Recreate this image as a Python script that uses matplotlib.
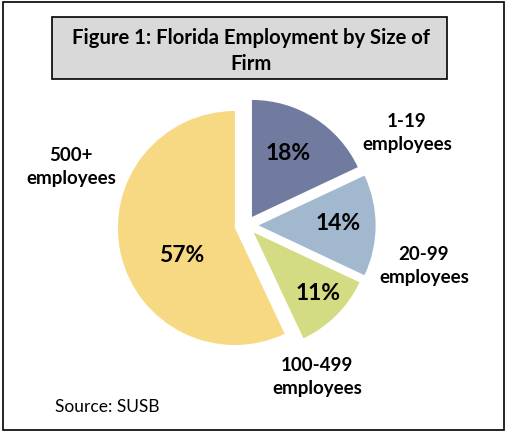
import matplotlib
matplotlib.use("Agg")
import matplotlib.pyplot as plt
from matplotlib.patches import Rectangle

# data
categories = ["1-19\nemployees", "20-99\nemployees", "100-499\nemployees", "500+\nemployees"]
shares = [18, 14, 11, 57]
colors = ["#717a9f", "#a2b8cf", "#d3dc82", "#f6d982"]
explode_px = [10, 12, 10, 12]

W, H = 508, 433
R = 117.0          # pie radius in pixels
CX, CY = 246.6, 225.4   # pie centre in pixels (from top-left)

def pos(px, py):
  # pixel (from top-left) -> data units of the pie axes
  return (px - CX) / R, (CY - py) / R

plt.rcParams['font.family'] = ['Lato', 'DejaVu Sans']

fig = plt.figure(figsize=(W / 100, H / 100), dpi=100)
ax = fig.add_axes([0, 0, 1, 1])

ax.pie(shares, colors=colors, startangle=90, counterclock=False,
       explode=[e / R for e in explode_px], radius=1.0,
       wedgeprops=dict(linewidth=0))

ax.set_xlim(-CX / R, (W - CX) / R)
ax.set_ylim(-(H - CY) / R, CY / R)
ax.set_aspect('equal')
ax.axis('off')

# percentage labels
pct_pos = [(288, 153), (338, 223), (318, 293), (182, 256)]
for v, (px, py) in zip(shares, pct_pos):
  x, y = pos(px, py)
  ax.text(x, y, "%d%%" % v, ha='center', va='center', fontsize=16.5,
          fontweight='bold', color='black')

# category labels
cat_pos = [(407, 133), (424, 266), (317, 377), (71, 167)]
for lab, (px, py) in zip(categories, cat_pos):
  x, y = pos(px, py)
  ax.text(x, y, lab, ha='center', va='center', fontsize=13.5,
          fontweight='bold', color='black', linespacing=1.45)

# title box
x0, y0 = pos(52, 79)
x1, y1 = pos(447, 17)
ax.add_patch(Rectangle((x0, y0), x1 - x0, y1 - y0, facecolor='#d9d9d9',
                       edgecolor='black', linewidth=1.2, zorder=3))
tx, ty = pos(251, 51)
ax.text(tx, ty, "Figure 1: Florida Employment by Size of\nFirm", ha='center',
        va='center', fontsize=14.6, fontweight='bold', color='black',
        linespacing=1.4, zorder=4)

# source note
sx, sy = pos(55, 407)
ax.text(sx, sy, "Source: SUSB", ha='left', va='center', fontsize=12.5,
        color='black')

# outer border
bx0, by0 = pos(2.5, 429.5)
bx1, by1 = pos(503.5, 1.5)
ax.add_patch(Rectangle((bx0, by0), bx1 - bx0, by1 - by0, facecolor='none',
                       edgecolor='black', linewidth=1.2, zorder=5, clip_on=False))

fig.savefig("out.png", dpi=100)
